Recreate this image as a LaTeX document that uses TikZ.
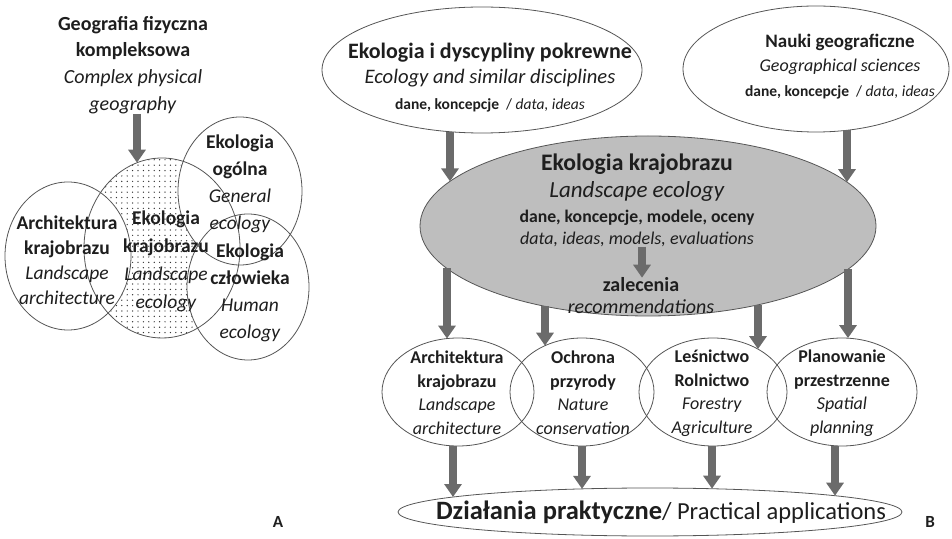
\documentclass[tikz,border=0pt]{standalone}
\usepackage{fontspec}
\setmainfont{Carlito}
\usetikzlibrary{arrows.meta,shapes.geometric}
\definecolor{linec}{HTML}{555555}
\definecolor{arrc}{HTML}{6B6B6B}
\definecolor{fillc}{HTML}{BEBEBE}
\definecolor{txtc}{HTML}{1E1E1E}
\definecolor{dotc}{HTML}{333333}
\newcommand{\fsz}[2]{\fontsize{#1}{#2}\selectfont}
\begin{document}
\begin{tikzpicture}[x=1pt,y=1pt,
  ell/.style={ellipse, draw=linec, line width=0.8pt, inner sep=0pt, outer sep=0pt},
  txt/.style={align=center, inner sep=0pt, text=txtc},
  bigarrow/.style={draw=arrc, line width=8.5pt, -{Triangle[width=17pt,length=13pt]}},
  lbl/.style={inner sep=0pt, text=txtc, font=\fsz{17}{20}\bfseries}
]
\useasboundingbox (0,0) rectangle (952,538);
% ---------------- Part A ----------------
\begin{scope}
  \clip (162,290) ellipse [x radius=78, y radius=90];
  \foreach \i in {0,...,30}{
    \foreach \j in {0,...,34}{
      \fill[dotc] ({84+\i*5.4},{200+\j*5.4}) circle (0.7);
    }
  }
\end{scope}
\fill[white] (68,282) ellipse [x radius=63, y radius=74];
\fill[white] (240,347) ellipse [x radius=62, y radius=74];
\fill[white] (248,251) ellipse [x radius=61, y radius=73];
\node[ell, minimum width=126, minimum height=148] (arch) at (68,282) {};
\node[ell, minimum width=124, minimum height=148] (gen) at (240,347) {};
\node[ell, minimum width=122, minimum height=146] (hum) at (248,251) {};
\node[ell, minimum width=156, minimum height=180] (le) at (162,290) {};

\node[txt, font=\fsz{20}{26.7}] (geo) at (133,473)
  {\textbf{Geografia fizyczna}\\\textbf{kompleksowa}\\\textit{Complex physical}\\\textit{geography}};
\node[txt, font=\fsz{19.5}{25}] (archt) at (67,278)
  {\textbf{Architektura}\\\textbf{krajobrazu}\\\textit{Landscape}\\\textit{architecture}};
\node[txt, font=\fsz{19.5}{28}] (let) at (166,277)
  {\textbf{Ekologia}\\\textbf{krajobrazu}\\\textit{Landscape}\\\textit{ecology}};
\node[txt, font=\fsz{19.5}{27}] (gent) at (240,354.5)
  {\textbf{Ekologia}\\\textbf{ogólna}\\\textit{General}\\\textit{ecology}};
\node[txt, font=\fsz{19.5}{27}] (humt) at (250,245)
  {\textbf{Ekologia}\\\textbf{człowieka}\\\textit{Human}\\\textit{ecology}};
\draw[bigarrow] ([xshift=4pt]geo.south) -- ([shift={(-25,85.3)}]le.center);
\node[lbl] (labA) at (278,16) {A};

% ---------------- Part B ----------------
\node[ell, minimum width=320, minimum height=126] (topL) at (482,468) {};
\node[ell, minimum width=266, minimum height=126] (topR) at (816,469) {};
\node[ell, fill=fillc, minimum width=456, minimum height=180] (lk) at (648,312) {};
\node[ell, minimum width=152, minimum height=108] (arc) at (458,146) {};
\node[ell, minimum width=144, minimum height=108] (nat) at (582,146) {};
\node[ell, minimum width=148, minimum height=108] (for) at (713,146) {};
\node[ell, minimum width=150, minimum height=108] (spa) at (842,146) {};
\node[ell, minimum width=504, minimum height=48] (bot) at (650,26) {};

\node[txt, font=\fsz{22}{25.5}] (topLt) at (490,460.5)
  {\textbf{Ekologia i dyscypliny pokrewne}\\{\fsz{20.6}{25.5}\textit{Ecology and similar disciplines}}\\
   {\fsz{15.5}{25.5}\textbf{dane, koncepcje}\hspace{7pt}/ \textit{data, ideas}}};
\node[txt, font=\fsz{19}{24.5}] (topRt) at (840,471.5)
  {\textbf{Nauki geograficzne}\\{\fsz{18}{24.5}\textit{Geographical sciences}}\\
   {\fsz{15.5}{24.5}\textbf{dane, koncepcje}\hspace{7pt}/ \textit{data, ideas}}};
\node[txt, font=\fsz{23.7}{27}] (lkt) at (637,338)
  {\textbf{Ekologia krajobrazu}\\{\fsz{23}{27}\textit{Landscape ecology}}\\[-2pt]
   {\fsz{17.7}{27}\textbf{dane, koncepcje, modele, oceny}}\\[-5pt]
   {\fsz{18}{27}\textit{data, ideas, models, evaluations}}};
\node[txt, font=\fsz{20}{22}] (rec) at (641,242)
  {\textbf{zalecenia}\\\textit{recommendations}};
\draw[bigarrow, line width=8pt] ([xshift=5pt]lkt.south) -- ([xshift=1pt]rec.north);

\node[txt, font=\fsz{18}{23.5}] (arct) at (457,145)
  {\textbf{Architektura}\\\textbf{krajobrazu}\\\textit{Landscape}\\\textit{architecture}};
\node[txt, font=\fsz{18}{23.5}] (natt) at (583,145)
  {\textbf{Ochrona}\\\textbf{przyrody}\\\textit{Nature}\\\textit{conservation}};
\node[txt, font=\fsz{18}{23.5}] (fort) at (712,145)
  {\textbf{Leśnictwo}\\\textbf{Rolnictwo}\\\textit{Forestry}\\\textit{Agriculture}};
\node[txt, font=\fsz{18}{23.5}] (spat) at (842,145)
  {\textbf{Planowanie}\\\textbf{przestrzenne}\\\textit{Spatial}\\\textit{planning}};
\node[txt] (bott) at (661,26)
  {{\fsz{26.5}{28}\textbf{Działania praktyczne}}{\fsz{24.5}{28}/ Practical applications}};
\node[lbl] (labB) at (930,16) {B};

% arrows
\draw[bigarrow] ([shift={(-32,-61.7)}]topL.center) -- ([shift={(-198,44.6)}]lk.center);
\draw[bigarrow] ([shift={(31,-61.3)}]topR.center) -- ([shift={(199,43.9)}]lk.center);
\draw[bigarrow] ([shift={(-201,-42.5)}]lk.center) -- ([shift={(-11,53.4)}]arc.center);
\draw[bigarrow] ([shift={(-103,-80.3)}]lk.center) -- ([shift={(-37,46.3)}]nat.center);
\draw[bigarrow] ([shift={(110,-78.8)}]lk.center) -- ([shift={(45,42.9)}]for.center);
\draw[bigarrow] ([shift={(200,-43.2)}]lk.center) -- ([shift={(6,53.9)}]spa.center);
\draw[bigarrow] ([shift={(-5,-54)}]arc.center) -- ([shift={(-197,15.0)}]bot.center);
\draw[bigarrow] ([shift={(0,-54)}]nat.center) -- ([shift={(-68,23.1)}]bot.center);
\draw[bigarrow] ([shift={(-1,-54)}]for.center) -- ([shift={(62,23.3)}]bot.center);
\draw[bigarrow] ([shift={(-7,-53.9)}]spa.center) -- ([shift={(185,16.3)}]bot.center);
\end{tikzpicture}
\end{document}
